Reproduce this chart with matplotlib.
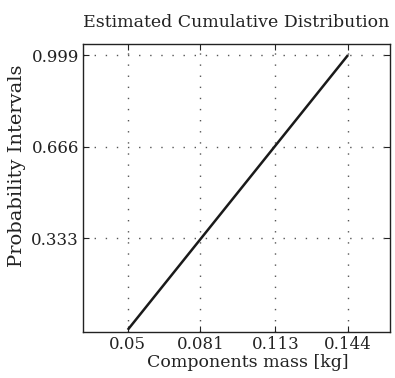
import matplotlib
matplotlib.use("Agg")
import matplotlib.pyplot as plt

# Estimated cumulative distribution of component mass
mass_kg = [0.05, 0.144]
probability = [0.001, 0.999]

x_ticks = [0.05, 0.081, 0.113, 0.144]
x_tick_labels = ["0.05", "0.081", "0.113", "0.144"]
y_ticks = [0.333, 0.666, 0.999]
y_tick_labels = ["0.333", "0.666", "0.999"]

plt.rcParams["font.family"] = ["DejaVu Serif"]

fig = plt.figure(figsize=(3.95, 3.78), dpi=100)
ax = fig.add_axes([83 / 395, 1 - 332 / 378, (390 - 83) / 395, (332 - 44) / 378])

ax.plot(mass_kg, probability, color="#1a1a1a", linewidth=1.8, solid_capstyle="butt")

ax.set_xlim(0.0309, 0.1619)
ax.set_ylim(-0.007, 1.039)
ax.set_xticks(x_ticks)
ax.set_xticklabels(x_tick_labels)
ax.set_yticks(y_ticks)
ax.set_yticklabels(y_tick_labels)

ax.grid(True, linestyle=(0, (1, 7)), color="#555555", linewidth=1.0)
ax.tick_params(direction="in", top=True, right=True, length=4, width=0.8,
               labelsize=12, pad=3, colors="#222222")
for spine in ax.spines.values():
    spine.set_linewidth(1.0)
    spine.set_color("#222222")

ax.set_xlabel("Components mass [kg]", fontsize=12.5, color="#222222")
ax.xaxis.set_label_coords(0.537, -0.075)
ax.set_ylabel("Probability Intervals", fontsize=14, color="#222222")
ax.yaxis.set_label_coords(-0.185, 0.576)
ax.set_title("Estimated Cumulative Distribution", fontsize=12.5, pad=12, color="#222222")

fig.savefig("out.png", dpi=100)
